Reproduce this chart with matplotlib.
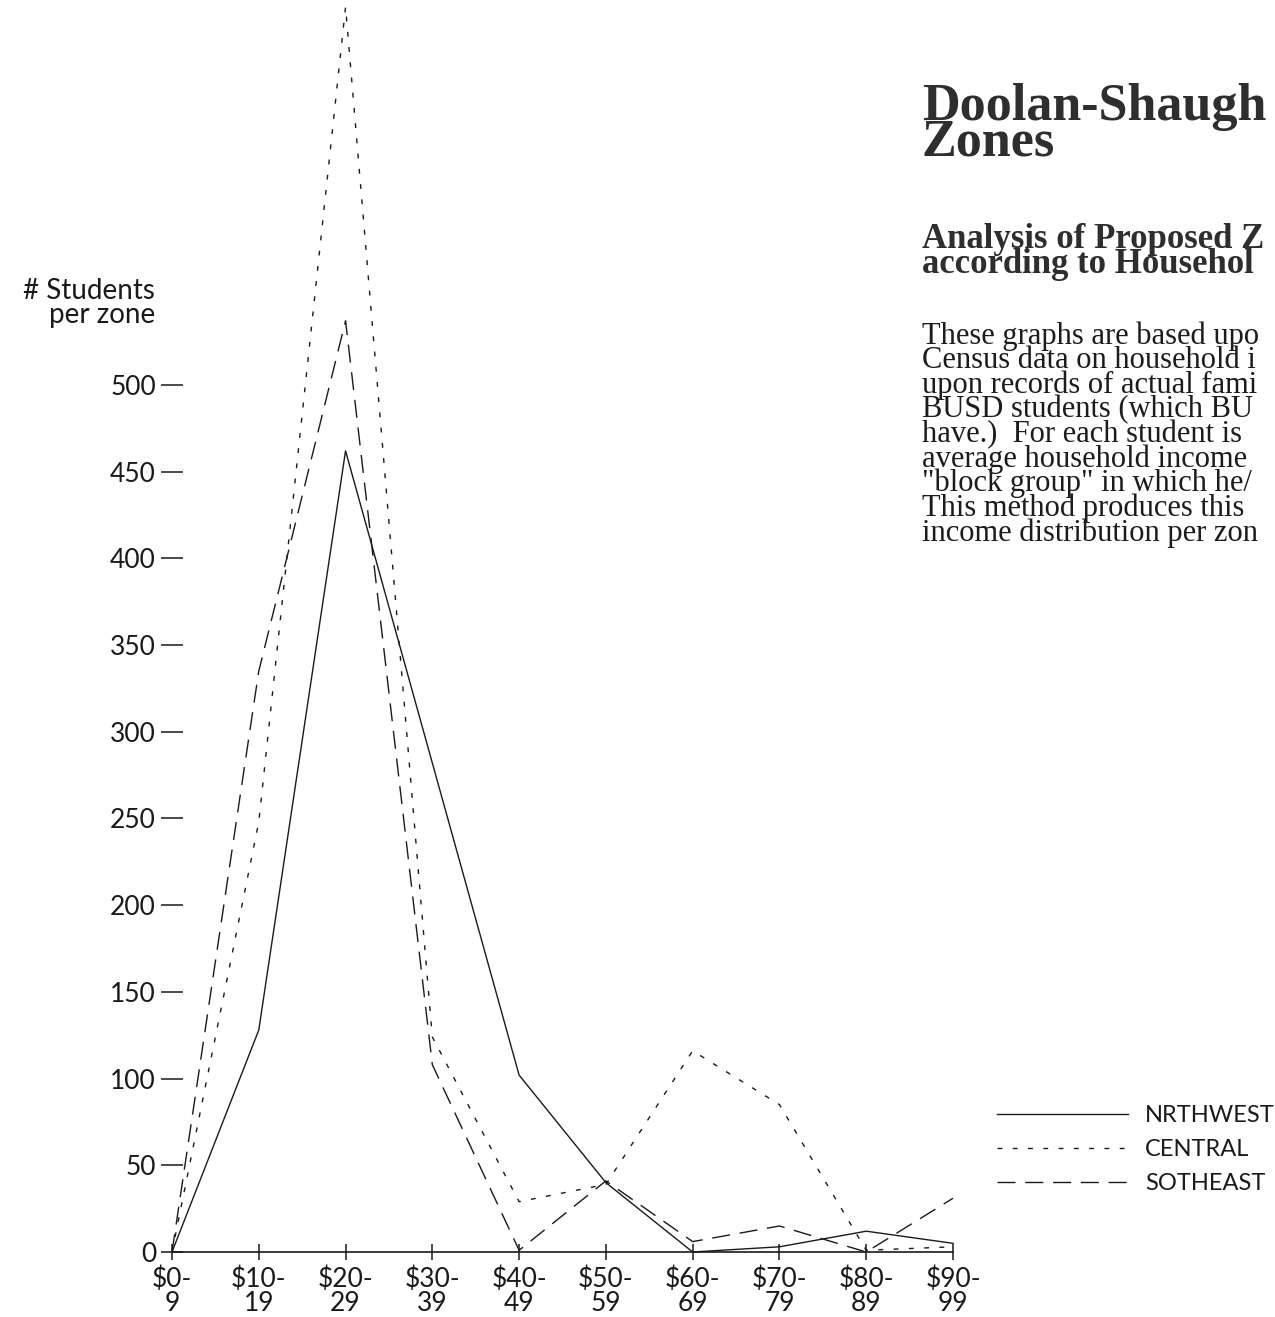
import numpy as np
import matplotlib
matplotlib.use("Agg")
import matplotlib.pyplot as plt

# income bands (thousands of $) and students per zone
bands = ["$0-\n9", "$10-\n19", "$20-\n29", "$30-\n39", "$40-\n49",
         "$50-\n59", "$60-\n69", "$70-\n79", "$80-\n89", "$90-\n99"]
nrthwest = [0, 128, 462, 282, 102, 40, 0, 3, 12, 5]
central = [0, 248, 718, 124, 29, 39, 116, 85, 1, 3]
sotheast = [0, 335, 537, 108, 1, 41, 6, 15, 0, 31]
yticks = [0, 50, 100, 150, 200, 250, 300, 350, 400, 450, 500]

plt.rcParams['font.family'] = ['Lato', 'DejaVu Sans']
ink = '#1a1a1a'

fig = plt.figure(figsize=(12.75, 13.17), dpi=100)
ax = fig.add_axes([172/1275, 65/1317, 781/1275, 1252/1317])

x = np.arange(len(bands))
ax.plot(x, nrthwest, color=ink, lw=1.0, ls='-', label='NRTHWEST', clip_on=False)
ax.plot(x, central, color=ink, lw=1.0, ls=(0, (3.5, 7.5)), label='CENTRAL', clip_on=False)
ax.plot(x, sotheast, color=ink, lw=1.0, ls=(0, (13, 7)), label='SOTHEAST', clip_on=False)

ax.set_xlim(0, 9)
ax.set_ylim(0, 722)
for s in ['left', 'top', 'right']:
    ax.spines[s].set_visible(False)
ax.spines['bottom'].set_linewidth(1.2)
ax.spines['bottom'].set_color(ink)

ax.set_xticks(x)
ax.set_xticklabels(bands, fontsize=19, color=ink, linespacing=0.95)
ax.set_yticks(yticks)
ax.set_yticklabels([str(v) for v in yticks], fontsize=19, color=ink)
ax.tick_params(axis='y', direction='inout', length=16, width=1.1, pad=3.5, color=ink)
ax.tick_params(axis='x', direction='inout', length=11.5, width=1.1, pad=4.5, color=ink)

fig.text(155/1275, 1 - 291/1317, "# Students", fontsize=20, ha='right', va='center', color=ink)
fig.text(155/1275, 1 - 315/1317, "per zone", fontsize=20, ha='right', va='center', color=ink)

leg = ax.legend(loc='upper left', bbox_to_anchor=(997/1275, 1 - 1105/1317),
                bbox_transform=fig.transFigure, frameon=False, fontsize=17,
                handlelength=5.55, handletextpad=0.72, labelspacing=0.56,
                borderpad=0, borderaxespad=0)
for t in leg.get_texts():
    t.set_color(ink)

# text block from the page, cut off at the right edge of the scan
# (multi-line texts are anchored on the baseline of their last line)
serif = ['Liberation Serif', 'DejaVu Serif']
tcol = '#2e2e2e'
fig.text(922/1275, 1 - 155/1317, "Doolan-Shaugh\nZones", family=serif, weight='bold',
         fontsize=37.5, color=tcol, va='baseline', linespacing=0.64)
fig.text(922/1275, 1 - 273/1317, "Analysis of Proposed Z\naccording to Househol",
         family=serif, weight='bold', fontsize=25, color=tcol, va='baseline',
         linespacing=0.7)

body = ["These graphs are based upo",
        "Census data on household i",
        "upon records of actual fami",
        "BUSD students (which BU",
        "have.)  For each student is",
        "average household income",
        "\"block group\" in which he/",
        "This method produces this",
        "income distribution per zon"]
fig.text(922/1275, 1 - 541/1317, "\n".join(body), family=serif,
         fontsize=22, color='#1c1c1c', va='baseline', linespacing=0.79)

fig.savefig("out.png", dpi=100)
